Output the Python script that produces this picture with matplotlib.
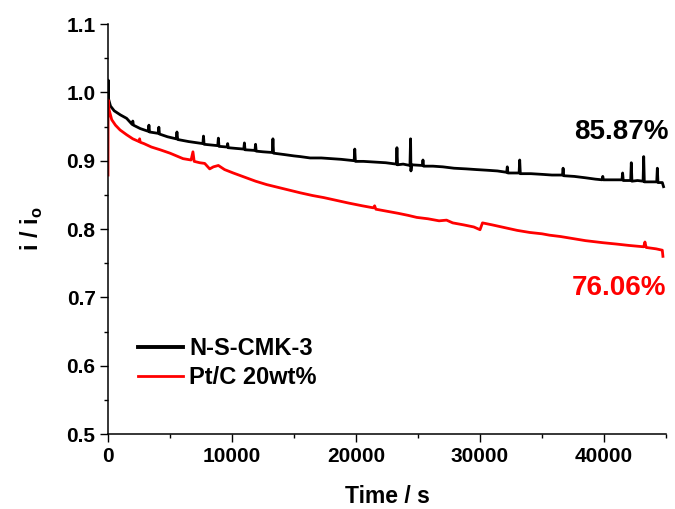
import matplotlib
matplotlib.use('Agg')
import matplotlib.pyplot as plt
from matplotlib.ticker import MultipleLocator

# N-S-CMK-3 chronoamperometric response (time in s, normalised current)
nscmk_t = [0, 15, 50, 200, 500, 1000, 1500, 1950, 2000, 2050, 2600, 3250, 3300, 3350,
           4050, 4100, 4150, 4800, 5500, 5560, 5620, 6500, 7650, 7700, 7750, 8850, 8900,
           8950, 9600, 9650, 9700, 10300, 10950, 11000, 11050, 11850, 11900, 11950, 12500,
           13250, 13300, 13350, 14200, 15000, 15500, 16300, 17200, 18000, 18800, 19850,
           19900, 19950, 20600, 21500, 22400, 23250, 23300, 23350, 23800, 24350, 24400,
           24430, 24480, 25350, 25400, 25450, 26200, 27000, 27900, 28900, 29700, 30600,
           31400, 32150, 32200, 32250, 33150, 33200, 33250, 34100, 35000, 35800, 36650,
           36700, 36750, 37600, 38500, 39300, 39850, 39900, 39950, 40800, 41450, 41500,
           41550, 42150, 42200, 42250, 42700, 43150, 43200, 43250, 43800, 44250, 44300,
           44350, 44700, 44800]
nscmk_i = [0.975, 1.018, 0.990, 0.980, 0.973, 0.967, 0.962, 0.953, 0.958, 0.952, 0.947,
           0.943, 0.952, 0.942, 0.940, 0.949, 0.939, 0.935, 0.932, 0.942, 0.931, 0.928,
           0.925, 0.936, 0.924, 0.922, 0.933, 0.921, 0.920, 0.925, 0.919, 0.918, 0.917,
           0.926, 0.916, 0.915, 0.924, 0.914, 0.913, 0.912, 0.932, 0.911, 0.909, 0.907,
           0.906, 0.904, 0.904, 0.903, 0.902, 0.900, 0.917, 0.899, 0.899, 0.898, 0.897,
           0.895, 0.919, 0.894, 0.895, 0.893, 0.932, 0.885, 0.894, 0.893, 0.901, 0.892,
           0.892, 0.891, 0.889, 0.888, 0.887, 0.886, 0.885, 0.883, 0.891, 0.882, 0.882,
           0.901, 0.881, 0.881, 0.880, 0.879, 0.879, 0.889, 0.878, 0.877, 0.875, 0.873,
           0.872, 0.877, 0.872, 0.872, 0.872, 0.882, 0.871, 0.871, 0.897, 0.870, 0.871,
           0.870, 0.906, 0.869, 0.869, 0.869, 0.889, 0.868, 0.868, 0.862]

# Pt/C 20wt%
ptc_t = [0, 10, 80, 300, 600, 970, 1500, 2000, 2500, 2550, 2600, 2900, 3500, 4200, 5000,
         6050, 6700, 6850, 6950, 7400, 7800, 8200, 8500, 8900, 9400, 10100, 11000, 11900,
         12800, 13700, 14600, 15500, 16500, 17400, 18400, 19400, 20500, 21400, 21500,
         21600, 22500, 23400, 24200, 24900, 25800, 26700, 27300, 27800, 28700, 29500,
         30000, 30200, 31000, 32000, 33000, 34000, 35000, 35600, 36500, 37500, 38500,
         39900, 41000, 42000, 43200, 43300, 43400, 44200, 44700, 44750]
ptc_i = [0.879, 0.989, 0.975, 0.960, 0.952, 0.945, 0.938, 0.932, 0.928, 0.932, 0.927,
         0.925, 0.920, 0.916, 0.911, 0.903, 0.901, 0.913, 0.899, 0.897, 0.896, 0.888,
         0.891, 0.893, 0.887, 0.882, 0.876, 0.870, 0.865, 0.861, 0.857, 0.853, 0.849,
         0.846, 0.842, 0.838, 0.834, 0.831, 0.834, 0.829, 0.826, 0.823, 0.820, 0.817,
         0.815, 0.812, 0.813, 0.809, 0.806, 0.803, 0.799, 0.809, 0.806, 0.802, 0.798,
         0.795, 0.793, 0.791, 0.789, 0.786, 0.783, 0.780, 0.778, 0.776, 0.774, 0.781,
         0.773, 0.771, 0.769, 0.760]

labels = ['N-S-CMK-3', 'Pt/C 20wt%']
retention = ['85.87%', '76.06%']

plt.rcParams['font.family'] = ['Liberation Sans', 'DejaVu Sans']
plt.rcParams['font.weight'] = 'bold'
plt.rcParams['mathtext.fontset'] = 'custom'
plt.rcParams['mathtext.bf'] = 'Liberation Sans:bold'
plt.rcParams['mathtext.rm'] = 'Liberation Sans:bold'

fig = plt.figure(figsize=(6.75, 5.09), dpi=100)
ax = fig.add_axes([0.160, 0.1473, 0.8267, 0.8055])

ax.plot(nscmk_t, nscmk_i, color='black', lw=2.0, label=labels[0])
ax.plot(ptc_t, ptc_i, color='red', lw=2.0, label=labels[1])

ax.set_xlim(0, 45000)
ax.set_ylim(0.5, 1.1)
ax.xaxis.set_major_locator(MultipleLocator(10000))
ax.xaxis.set_minor_locator(MultipleLocator(5000))
ax.yaxis.set_major_locator(MultipleLocator(0.1))
ax.yaxis.set_minor_locator(MultipleLocator(0.05))

for side in ['top', 'right']:
    ax.spines[side].set_visible(False)
for side in ['left', 'bottom']:
    ax.spines[side].set_linewidth(1.1)

ax.tick_params(which='major', direction='out', length=6, width=1.0, labelsize=15, pad=3)
ax.tick_params(which='minor', direction='out', length=3, width=1.0)
for lab in ax.get_xticklabels() + ax.get_yticklabels():
    lab.set_fontweight('bold')

ax.set_xlabel('Time / s', fontsize=16.5, fontweight='bold', labelpad=14)
ax.set_ylabel(r'i / i$_\mathrm{o}$', fontsize=17, fontweight='bold', labelpad=15)

ax.text(45200, 0.942, retention[0], color='black', fontsize=20, fontweight='bold',
        ha='right', va='center', clip_on=False)
ax.text(45000, 0.714, retention[1], color='red', fontsize=20, fontweight='bold',
        ha='right', va='center', clip_on=False)

leg = ax.legend(loc='upper left', bbox_to_anchor=(0.054, 0.237), frameon=False,
                fontsize=17, handlelength=1.9, handletextpad=0.25, borderpad=0,
                borderaxespad=0, labelspacing=0.28)
leg.get_lines()[0].set_linewidth(2.8)
leg.get_lines()[1].set_linewidth(2.0)
for t in leg.get_texts():
    t.set_fontweight('bold')

fig.savefig('out.png', dpi=100)
